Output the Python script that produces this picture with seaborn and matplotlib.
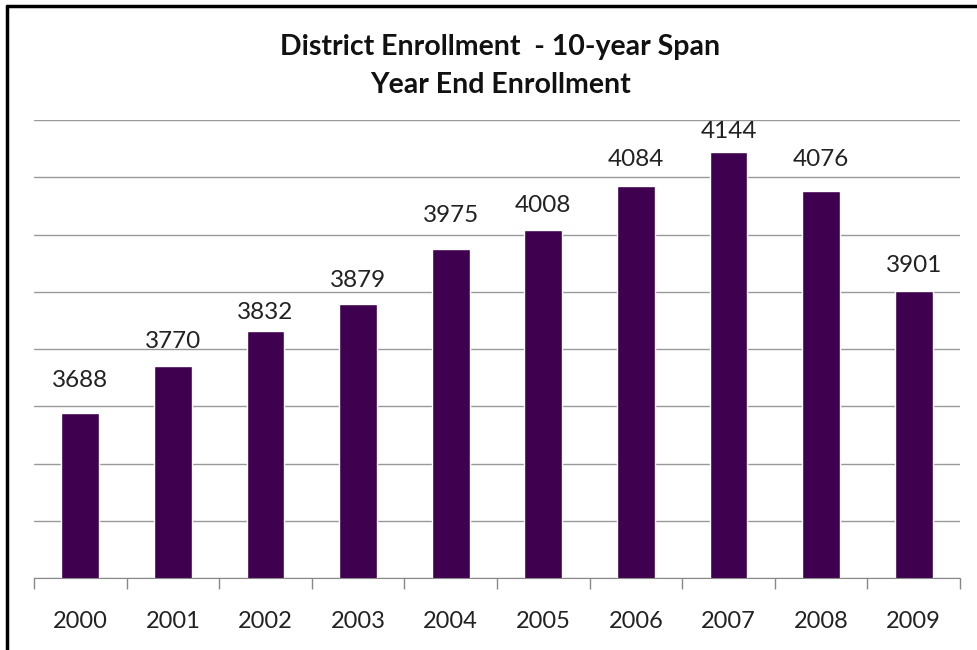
import pandas as pd
import numpy as np
import matplotlib.pyplot as plt
import seaborn as sns
from matplotlib.lines import Line2D

years = ['2000', '2001', '2002', '2003', '2004', '2005', '2006', '2007', '2008', '2009']
enrollment = [3688, 3770, 3832, 3879, 3975, 4008, 4084, 4144, 4076, 3901]

df = pd.DataFrame({'year': years, 'enrollment': enrollment})

# gap (px) between bar top and label, labels sit a bit unevenly in the original
label_gap = [26, 18, 12, 17, 27, 18, 20, 14, 25, 19]

sns.set_style('white')
plt.rcParams['font.family'] = ['Lato', 'DejaVu Sans']

fig = plt.figure(figsize=(9.77, 6.5), dpi=100)
ax = fig.add_axes([34/977, 1-578/650, (960-34)/977, (578-120)/650])

sns.barplot(data=df, x='year', y='enrollment', color='#3f004f', saturation=1,
            width=0.41, ax=ax)

ax.set_ylim(3400, 4200)
ax.set_yticks(np.arange(3400, 4201, 100))
ax.yaxis.grid(True, color='#999999', linewidth=1)
ax.set_axisbelow(True)
ax.tick_params(axis='y', left=False, labelleft=False)
ax.set_xlim(-0.5, 9.5)
ax.set_xticks(np.arange(-0.5, 10, 1), minor=False)
ax.set_xticklabels([])
ax.set_xticks(np.arange(0, 10), minor=True)
ax.set_xticklabels(years, minor=True)
ax.tick_params(axis='x', which='major', bottom=True, direction='out', length=8,
               color='#888888', width=1)
ax.tick_params(axis='x', which='minor', bottom=True, length=0, labelsize=17,
               labelcolor='#222222', pad=24)
ax.set_xlabel('')
ax.set_ylabel('')
for side in ['top', 'right', 'left']:
    ax.spines[side].set_visible(False)
ax.spines['bottom'].set_color('#888888')

for i, v in enumerate(enrollment):
    ax.annotate(str(v), (i, v), xytext=(0, label_gap[i] * 0.72), textcoords='offset points',
                ha='center', va='baseline', fontsize=17.5, color='#222222')

fig.text(0.512, 1-47/650, 'District Enrollment  - 10-year Span', ha='center', va='center',
         fontsize=20.5, fontweight='bold', color='#111111')
fig.text(0.512, 1-85/650, 'Year End Enrollment', ha='center', va='center',
         fontsize=20.5, fontweight='bold', color='#111111')

fig.add_artist(Line2D([7/977, 7/977], [0, 1-6/650], color='black', linewidth=2.5))
fig.add_artist(Line2D([7/977, 1], [1-6/650, 1-6/650], color='black', linewidth=2.5))

fig.savefig('out.png', dpi=100)
